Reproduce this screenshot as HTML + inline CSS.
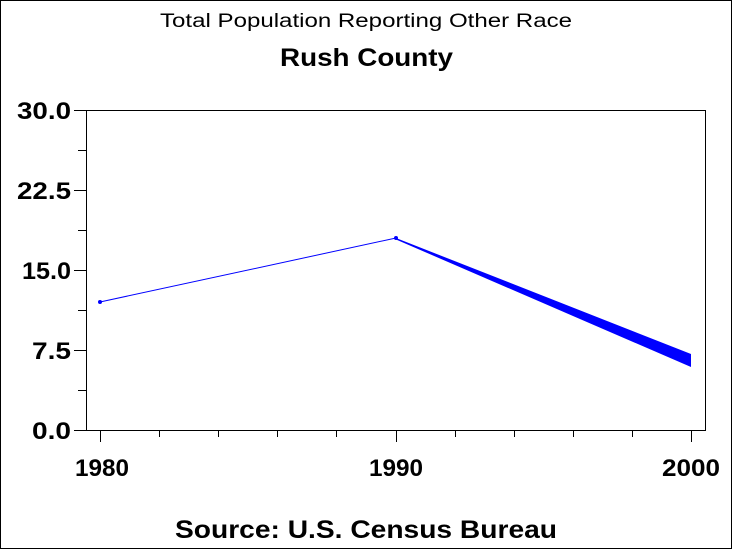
<!DOCTYPE html>
<html><head><style>
body{margin:0;background:#fff}
svg{display:block}
text{font-family:"Liberation Sans",Arial,sans-serif;fill:#000}
</style></head><body>
<svg width="733" height="550" xmlns="http://www.w3.org/2000/svg">
<rect x="0.5" y="0.5" width="731" height="548" fill="#fff" stroke="#000"/>
<text x="160" y="27" font-size="19" textLength="412" lengthAdjust="spacingAndGlyphs">Total Population Reporting Other Race</text>
<text x="280" y="66" font-size="25" font-weight="bold" textLength="173" lengthAdjust="spacingAndGlyphs">Rush County</text>
<text x="175" y="538" font-size="25" font-weight="bold" textLength="382" lengthAdjust="spacingAndGlyphs">Source: U.S. Census Bureau</text>
<rect x="86.5" y="110.5" width="619" height="320" fill="none" stroke="#000"/>
<g stroke="#000">
<line x1="74" y1="110.5" x2="86" y2="110.5"/>
<line x1="78" y1="150.5" x2="86" y2="150.5"/>
<line x1="74" y1="190.5" x2="86" y2="190.5"/>
<line x1="78" y1="230.5" x2="86" y2="230.5"/>
<line x1="74" y1="270.5" x2="86" y2="270.5"/>
<line x1="78" y1="310.5" x2="86" y2="310.5"/>
<line x1="74" y1="350.5" x2="86" y2="350.5"/>
<line x1="78" y1="390.5" x2="86" y2="390.5"/>
<line x1="74" y1="430.5" x2="86" y2="430.5"/>
<line x1="100.5" y1="431" x2="100.5" y2="442"/>
<line x1="159.5" y1="431" x2="159.5" y2="437"/>
<line x1="218.5" y1="431" x2="218.5" y2="437"/>
<line x1="277.5" y1="431" x2="277.5" y2="437"/>
<line x1="336.5" y1="431" x2="336.5" y2="437"/>
<line x1="396.5" y1="431" x2="396.5" y2="442"/>
<line x1="455.5" y1="431" x2="455.5" y2="437"/>
<line x1="514.5" y1="431" x2="514.5" y2="437"/>
<line x1="573.5" y1="431" x2="573.5" y2="437"/>
<line x1="632.5" y1="431" x2="632.5" y2="437"/>
<line x1="691.5" y1="431" x2="691.5" y2="442"/>
</g>
<g font-size="24" font-weight="bold">
<text x="17" y="119" textLength="54" lengthAdjust="spacingAndGlyphs">30.0</text>
<text x="17" y="199" textLength="54" lengthAdjust="spacingAndGlyphs">22.5</text>
<text x="22" y="279" textLength="49" lengthAdjust="spacingAndGlyphs">15.0</text>
<text x="32" y="359" textLength="39" lengthAdjust="spacingAndGlyphs">7.5</text>
<text x="32" y="439" textLength="39" lengthAdjust="spacingAndGlyphs">0.0</text>
</g>
<g font-size="24" font-weight="bold">
<text x="75" y="476" textLength="54" lengthAdjust="spacingAndGlyphs">1980</text>
<text x="369" y="476" textLength="54" lengthAdjust="spacingAndGlyphs">1990</text>
<text x="662" y="476" textLength="58" lengthAdjust="spacingAndGlyphs">2000</text>
</g>
<line x1="100" y1="302" x2="396" y2="238" stroke="#00f" stroke-width="1"/>
<polygon points="396,238 691,354 691,367 396,239.5" fill="#00f"/>
<circle cx="100" cy="302" r="2" fill="#00f"/>
<circle cx="396" cy="238" r="2" fill="#00f"/>
</svg>
</body></html>
